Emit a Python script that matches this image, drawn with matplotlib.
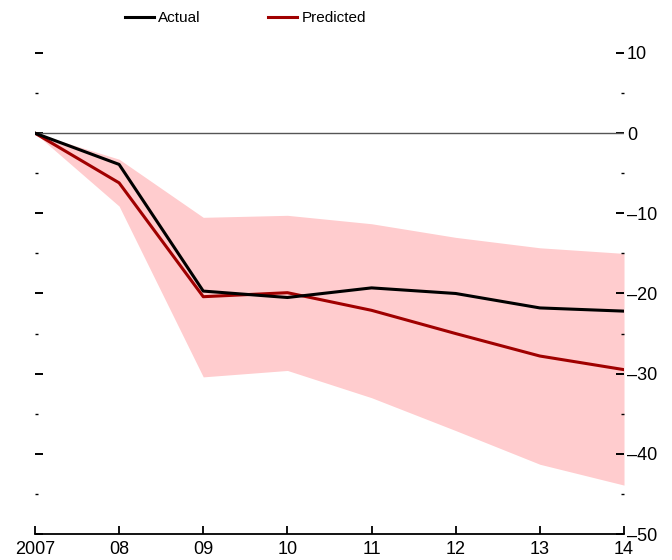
import numpy as np
import matplotlib
matplotlib.use("Agg")
import matplotlib.pyplot as plt
from matplotlib.ticker import FixedLocator, FuncFormatter
from matplotlib.lines import Line2D

plt.rcParams['font.family'] = ['Liberation Sans', 'DejaVu Sans']

years = [2007, 2008, 2009, 2010, 2011, 2012, 2013, 2014]
year_labels = ["2007", "08", "09", "10", "11", "12", "13", "14"]
actual = [0, -3.9, -19.7, -20.5, -19.3, -20.0, -21.8, -22.2]
predicted = [0, -6.2, -20.4, -19.9, -22.1, -25.0, -27.8, -29.5]
band_upper = [0, -3.25, -10.5, -10.25, -11.3, -13.0, -14.3, -15.0]
band_lower = [0, -9.1, -30.4, -29.6, -33.0, -37.1, -41.3, -43.9]

fig = plt.figure(figsize=(6.72, 5.6), dpi=100)
ax = fig.add_axes([0.052, 0.0464, 0.8766, 0.9306])

ax.fill_between(years, band_lower, band_upper, color='#FFCCCE', lw=0, zorder=1)
ax.axhline(0, color='#555555', lw=1.0, zorder=2)
ax.plot(years, actual, color='black', lw=2.2, zorder=4)
ax.plot(years, predicted, color='#A00000', lw=2.2, zorder=3)

ax.set_xlim(2007, 2014)
ax.set_ylim(-50, 15)

for s in ['top', 'left', 'right']:
    ax.spines[s].set_visible(False)
ax.spines['bottom'].set_linewidth(1.3)

ax.set_xticks(years)
ax.set_xticklabels(year_labels)
ax.tick_params(axis='x', direction='in', length=6, width=1.3, labelsize=13, pad=5)

ax.yaxis.set_major_locator(FixedLocator([-50, -40, -30, -20, -10, 0, 10]))
ax.yaxis.set_minor_locator(FixedLocator([-45, -35, -25, -15, -5, 5]))
ax.yaxis.set_major_formatter(FuncFormatter(lambda v, p: f"{int(v)}".replace("-", "\u2013")))
ax.tick_params(axis='y', which='major', direction='in', length=6, width=1.4,
               left=True, right=True, labelleft=False, labelright=True, labelsize=13, pad=2)
ax.tick_params(axis='y', which='minor', direction='in', length=2.3, width=1.0,
               left=True, right=True)

handles = [Line2D([], [], color='black', lw=2.2),
           Line2D([], [], color='#A00000', lw=2.2)]
fig.legend(handles, ['Actual', 'Predicted'], loc='center', bbox_to_anchor=(0.365, 0.968),
           ncol=2, frameon=False, fontsize=11, handlelength=1.9, handletextpad=0.3,
           columnspacing=4.4)

fig.savefig("out.png", dpi=100)
